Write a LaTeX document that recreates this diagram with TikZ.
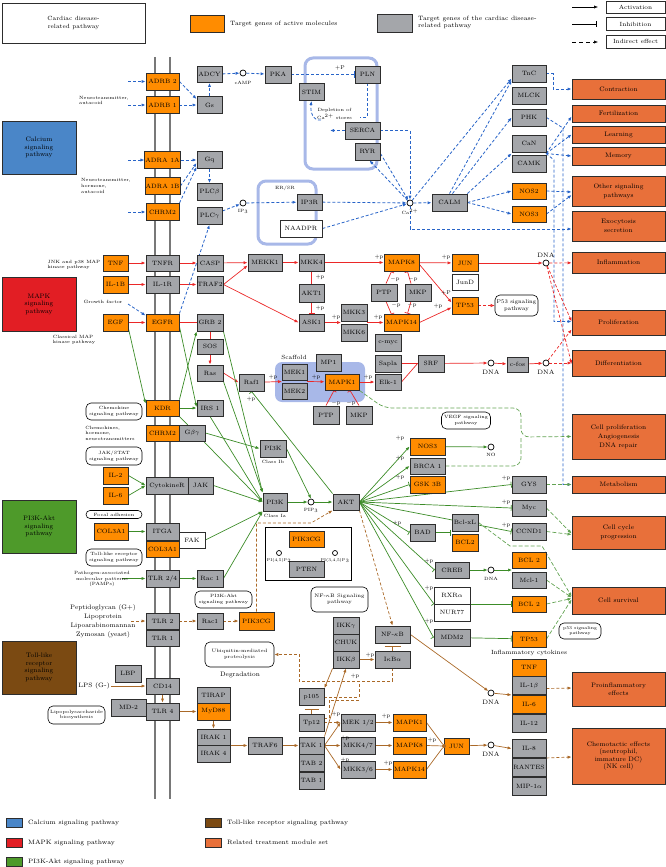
\documentclass[tikz,border=0pt]{standalone}
\usetikzlibrary{arrows.meta,calc,backgrounds}
\definecolor{org}{RGB}{255,140,0}
\definecolor{gry}{RGB}{164,166,170}
\definecolor{bdr}{RGB}{45,45,45}
\definecolor{outc}{RGB}{232,112,58}
\definecolor{cblue}{RGB}{74,134,200}
\definecolor{cred}{RGB}{226,30,36}
\definecolor{cgreen}{RGB}{78,154,42}
\definecolor{cbrown}{RGB}{123,74,18}
\definecolor{lblue}{RGB}{168,184,232}
\definecolor{ablue}{RGB}{40,100,200}
\definecolor{ared}{RGB}{235,40,40}
\definecolor{agreen}{RGB}{60,140,40}
\definecolor{abrown}{RGB}{170,105,40}
\definecolor{mgray}{RGB}{120,120,120}
\tikzset{
 bx/.style={draw=bdr,line width=0.9pt,inner sep=0.5pt,font=\fontsize{6.2}{7}\selectfont,minimum height=17pt},
 gy/.style={bx,fill=gry,minimum width=#1pt}, gy/.default=26,
 og/.style={bx,fill=org,minimum width=#1pt}, og/.default=26,
 wt/.style={bx,fill=white,minimum width=#1pt}, wt/.default=26,
 hh/.style={minimum height=#1pt},
 oc/.style={draw=bdr,line width=0.8pt,fill=outc,minimum width=93pt,align=center,font=\fontsize{6.5}{9}\selectfont,inner sep=1pt},
 rnd/.style={draw=black,line width=0.6pt,fill=white,rounded corners=5pt,align=center,font=\fontsize{4.6}{5.6}\selectfont,inner sep=0.5pt},
 sm/.style={font=\fontsize{4.6}{5.6}\selectfont,align=left,inner sep=0pt},
 lbl/.style={font=\fontsize{5.5}{6}\selectfont,inner sep=0pt},
 dnal/.style={font=\fontsize{6.3}{7}\selectfont,inner sep=0pt},
 cir/.style={circle,draw=black,fill=white,line width=0.7pt,minimum size=6pt,inner sep=0pt},
 lg/.style={draw=bdr,line width=0.8pt,minimum width=16pt,minimum height=9pt,inner sep=0pt},
 lgt/.style={anchor=west,font=\fontsize{6.3}{7}\selectfont,inner sep=0pt},
 big/.style={draw=bdr,line width=0.8pt,minimum width=74pt,minimum height=53pt,align=center,font=\fontsize{6.5}{7.5}\selectfont},
 memb/.style={draw=mgray,line width=1.1pt},
 bla/.style={draw=ablue,line width=0.8pt,dash pattern=on 3pt off 2pt,-{Latex[length=4pt,width=3.2pt]}},
 blb/.style={draw=ablue,line width=0.8pt,dash pattern=on 3pt off 2pt,-{Bar[width=6pt]}},
 bll/.style={draw=ablue,line width=0.8pt,dash pattern=on 3pt off 2pt},
 rda/.style={draw=ared,line width=0.7pt,-{Latex[length=4pt,width=3.2pt]}},
 rdl/.style={draw=ared,line width=0.7pt},
 rdi/.style={draw=ared,line width=0.7pt,-{Bar[width=6pt]}},
 rdd/.style={draw=ared,line width=0.7pt,dash pattern=on 3pt off 2pt,-{Latex[length=4pt,width=3.2pt]}},
 rdo/.style={draw=ared,line width=0.7pt,dash pattern=on 3pt off 2pt,-{Latex[open,length=4pt,width=3.5pt]}},
 gra/.style={draw=agreen,line width=0.7pt,-{Latex[length=4pt,width=3.2pt]}},
 grl/.style={draw=agreen,line width=0.7pt},
 gri/.style={draw=agreen,line width=0.7pt,-{Bar[width=6pt]}},
 grd/.style={draw=agreen!80!white,line width=0.7pt,dash pattern=on 4pt off 2pt,-{Latex[length=4pt,width=3.2pt]}},
 grdl/.style={draw=agreen!80!white,line width=0.7pt,dash pattern=on 4pt off 2pt},
 bra/.style={draw=abrown,line width=0.7pt,-{Latex[length=4pt,width=3.2pt]}},
 brl/.style={draw=abrown,line width=0.7pt},
 bri/.style={draw=abrown,line width=0.7pt,-{Bar[width=6pt]}},
 brd/.style={draw=abrown,line width=0.7pt,dash pattern=on 3pt off 2pt,-{Latex[length=4pt,width=3.2pt]}},
 brdl/.style={draw=abrown,line width=0.7pt,dash pattern=on 3pt off 2pt},
}
\begin{document}
\begin{tikzpicture}[x=1pt,y=-1pt]
\useasboundingbox (0,0) rectangle (666,867);
\begin{scope}[on background layer]
 \draw[memb] (155,57) -- (155,799);
 \draw[memb] (170,57) -- (170,799);
 \draw[lblue,line width=3pt,rounded corners=8pt] (305,58) rectangle (377,169);
 \draw[lblue,line width=3pt,rounded corners=8pt] (258,181) rectangle (316,244);
 \fill[lblue,rounded corners=7pt] (275,362) rectangle (365,402);
\end{scope}

% ---------- legends ----------
\node[draw=bdr,line width=0.8pt,minimum width=143pt,minimum height=40pt,align=center,font=\fontsize{6}{7.5}\selectfont] (legcard) at (73.5,23) {Cardiac disease-\\related pathway};
\node[draw=bdr,line width=0.8pt,fill=org,minimum width=34pt,minimum height=17pt,inner sep=0pt] (legorg) at (207,23.5) {};
\node[lgt,font=\fontsize{6.2}{7}\selectfont] (legorgt) at (230,24) {Target genes of active molecules};
\node[draw=bdr,line width=0.8pt,fill=gry,minimum width=35pt,minimum height=18pt,inner sep=0pt] (leggry) at (394.5,23) {};
\node[lgt,align=left,font=\fontsize{6.2}{7.5}\selectfont] (leggryt) at (418,22.5) {Target genes of the cardiac disease-\\related pathway};
\node[draw=bdr,line width=0.6pt,minimum width=59pt,minimum height=12pt,inner sep=0pt,font=\fontsize{6}{7}\selectfont] (legact) at (635.5,7) {Activation};
\node[draw=bdr,line width=0.6pt,minimum width=59pt,minimum height=13pt,inner sep=0pt,font=\fontsize{6}{7}\selectfont] (leginh) at (635.5,24) {Inhibition};
\node[draw=bdr,line width=0.6pt,minimum width=59pt,minimum height=13pt,inner sep=0pt,font=\fontsize{6}{7}\selectfont] (legind) at (635.5,41.5) {Indirect effect};
\coordinate (la1) at (572,7); \coordinate (la2) at (598,7);
\coordinate (lb1) at (572,24); \coordinate (lb2) at (597,24);
\coordinate (lc1) at (572,42); \coordinate (lc2) at (598,42);

\node[big,fill=cblue] (calbox) at (39,147.5) {Calcium\\signaling\\pathway};
\node[big,fill=cred,minimum height=54pt] (mapkbox) at (39,304) {MAPK\\signaling\\pathway};
\node[big,fill=cgreen] (pibox) at (39,526.5) {PI3K-Akt\\signaling\\pathway};
\node[big,fill=cbrown] (tollbox) at (39,667.5) {Toll-like\\receptor\\signaling\\pathway};

\node[lg,fill=cblue] (sq1) at (14,822.5) {};
\node[lgt] (sq1t) at (28,822.5) {Calcium signaling pathway};
\node[lg,fill=cred] (sq2) at (14,842.5) {};
\node[lgt] (sq2t) at (28,842.5) {MAPK signaling pathway};
\node[lg,fill=cgreen] (sq3) at (14,862) {};
\node[lgt] (sq3t) at (28,862) {PI3K-Akt signaling pathway};
\node[lg,fill=cbrown] (sq4) at (213,822.5) {};
\node[lgt] (sq4t) at (227,822.5) {Toll-like receptor signaling pathway};
\node[lg,fill=outc] (sq5) at (213,842.5) {};
\node[lgt] (sq5t) at (227,842.5) {Related treatment module set};

% ---------- outcome boxes ----------
\node[oc,minimum height=20pt] (contraction) at (618.5,89) {Contraction};
\node[oc,minimum height=17pt] (fertilization) at (618.5,113.5) {Fertilization};
\node[oc,minimum height=17pt] (learning) at (618.5,134.5) {Learning};
\node[oc,minimum height=18pt] (memory) at (618.5,156) {Memory};
\node[oc,minimum height=30pt] (othersig) at (618.5,191) {Other signaling\\pathways};
\node[oc,minimum height=30pt] (exocytosis) at (618.5,226) {Exocytosis\\secretion};
\node[oc,minimum height=21pt] (inflammation) at (618.5,262.5) {Inflammation};
\node[oc,minimum height=25pt] (proliferation) at (618.5,322.5) {Proliferation};
\node[oc,minimum height=26pt] (differentiation) at (618.5,363) {Differentiation};
\node[oc,minimum height=45pt] (cellprolif) at (618.5,436.5) {Cell proliferation\\Angiogenesis\\DNA repair};
\node[oc,minimum height=17pt] (metabolism) at (618.5,484.5) {Metabolism};
\node[oc,minimum height=33pt] (cellcycle) at (618.5,532.5) {Cell cycle\\progression};
\node[oc,minimum height=27pt] (cellsurvival) at (618.5,600.5) {Cell survival};
\node[oc,minimum height=34pt,font=\fontsize{6.5}{7.5}\selectfont] (proinflam) at (618.5,689) {Proinflammatory\\effects};
\node[oc,minimum height=56pt,font=\fontsize{6.5}{7.5}\selectfont] (chemotactic) at (618.5,756) {Chemotactic effects\\(neutrophil,\\immature DC)\\(NK cell)};

% ---------- calcium section ----------
\node[og=33] (adrb2) at (162.5,81.5) {ADRB 2};
\node[og=33] (adrb1) at (162.5,105) {ADRB 1};
\node[gy=25,hh=16] (adcy) at (209.5,74.5) {ADCY};
\node[gy=25] (gs) at (209.5,105) {Gs};
\node[og=33] (adra1a) at (162.5,160) {ADRA 1A};
\node[og=33] (adra1b) at (162.5,186) {ADRA 1B};
\node[og=33] (chrm2) at (162.5,212) {CHRM2};
\node[gy=25] (gq) at (209.5,160) {Gq};
\node[gy=25] (plcb) at (209.5,192) {PLC$\beta$};
\node[gy=25] (plcg) at (209.5,216) {PLC$\gamma$};
\node[sm] (nt1) at (104,100.5) {Neurotransmitter,\\autacoid};
\node[sm] (nt2) at (106,186) {Neurotransmitter,\\hormone,\\autacoid};
\node[cir] (camp) at (243,73) {};
\node[sm] (campl) at (243,82.5) {cAMP};
\node[gy=26] (pka) at (278,74.5) {PKA};
\node[gy=25] (pln) at (367.5,74.5) {PLN};
\node[lbl] (ppln) at (340,68.5) {+P};
\node[gy=25] (stim) at (311.5,92) {STIM};
\node[sm,align=center] (deplet) at (334.5,114) {Depletion of\\Ca$^{2+}$ stores};
\coordinate (dep) at (321,120);
\node[gy=35] (serca) at (362.5,130.5) {SERCA};
\node[gy=25] (ryr) at (367.5,151.5) {RYR};
\coordinate (plnend) at (360,117);
\coordinate (sercaout) at (330,130.5);
\node[sm] (ersr) at (285,188) {ER/SR};
\node[cir] (ip3c) at (243,203) {};
\node[sm] (ip3l) at (243,211.5) {IP$_3$};
\node[gy=25,hh=16] (ip3r) at (309.5,202) {IP3R};
\node[wt=42] (naadpr) at (301,228.5) {NAADPR};
\node[cir] (cac) at (410,203) {};
\node[sm] (cal) at (410,212) {Ca$^{2+}$};
\node[gy=35] (calm) at (449.5,202.5) {CALM};
\node[gy=34] (tnc) at (529,73.5) {TnC};
\node[gy=34] (mlck) at (529,95.5) {MLCK};
\node[gy=34] (phk) at (529,117.5) {PHK};
\node[gy=34] (can) at (529,143.5) {CaN};
\node[gy=34] (camk) at (529,163.5) {CAMK};
\node[og=34,hh=16] (nos2) at (529,191) {NOS2};
\node[og=34,hh=16] (nos3a) at (529,214) {NOS3};
\coordinate (jcan) at (546,153.5);

% ---------- MAPK section ----------
\node[sm] (jnk) at (74,265) {JNK and p38 MAP\\kinase pathway};
\node[sm] (gfac) at (103,302) {Growth factor};
\node[sm] (clmap) at (74,340) {Classical MAP\\kinase pathway};
\coordinate (gf) at (128,304);
\node[og=25,hh=16] (tnf) at (115.5,263) {TNF};
\node[og=25] (il1b) at (115.5,284.5) {IL-1B};
\node[og=25] (egf) at (115.5,322.5) {EGF};
\node[gy=33,hh=16] (tnfr) at (162.5,263) {TNFR};
\node[gy=33] (il1r) at (162.5,284.5) {IL-1R};
\node[og=33] (egfr) at (162.5,322.5) {EGFR};
\node[gy=26,hh=16] (casp) at (210,263) {CASP};
\node[gy=26] (traf2) at (210,284.5) {TRAF2};
\node[gy=26] (grb2) at (210,322.5) {GRB 2};
\node[gy=26,hh=15] (sos) at (210,346.5) {SOS};
\node[gy=26,hh=16] (ras) at (210,373) {Ras};
\node[gy=26,hh=16] (irs1) at (210,408) {IRS 1};
\node[og=33,hh=16] (kdr) at (162.5,408) {KDR};
\node[og=33,hh=16] (chrm2b) at (162.5,433) {CHRM2};
\node[gy=26,hh=16] (gbg) at (192,433) {G$\beta\gamma$};
\node[gy=34] (mekk1) at (265,262.5) {MEKK1};
\node[gy=25] (mkk4) at (311.5,262.5) {MKK4};
\node[gy=25,hh=18] (akt1) at (311.5,293) {AKT1};
\node[gy=25] (ask1) at (311.5,322.5) {ASK1};
\node[gy=26] (mkk3) at (354,312.5) {MKK3};
\node[gy=26] (mkk6) at (354,332.5) {MKK6};
\coordinate (mkkj) at (341,322.5);
\coordinate (mkkk) at (367,322.5);
\node[og=35] (mapk8) at (401.5,262.5) {MAPK8};
\node[gy=26] (ptp1) at (384,292.5) {PTP};
\node[gy=26] (mkp1) at (418,292.5) {MKP};
\node[og=35] (mapk14) at (401.5,322.5) {MAPK14};
\node[gy=26] (cmyc) at (388,342.5) {c-myc};
\node[gy=26] (sapla) at (388,363.5) {Sapla};
\node[gy=26,hh=16] (elk1) at (388,382) {Elk-1};
\node[gy=26] (srf) at (431,363.5) {SRF};
\node[og=26] (jun) at (465,263) {JUN};
\node[wt=26,hh=16] (jund) at (465,282) {JunD};
\node[og=26] (tp53) at (465,305.5) {TP53};
\node[rnd,minimum width=43pt,minimum height=21pt,font=\fontsize{5.5}{6.5}\selectfont] (p53path) at (516.5,305.5) {P53 signaling\\pathway};
\node[cir] (dna1) at (546,263) {};
\node[dnal] (dna1l) at (546,255.5) {DNA};
\node[cir] (dna2) at (491,363) {};
\node[dnal] (dna2l) at (491,372.5) {DNA};
\node[gy=21,hh=15] (cfos) at (517.5,364.5) {c-fos};
\node[cir] (dna3) at (546,363) {};
\node[dnal] (dna3l) at (546,372.5) {DNA};
\node[lbl,font=\fontsize{6}{7}\selectfont] (scaf) at (294,357.5) {Scaffold};
\node[gy=25,hh=16] (mek1) at (294.5,372) {MEK1};
\node[gy=25,hh=16] (mek2) at (294.5,391) {MEK2};
\node[gy=25] (mp1) at (328.5,362.5) {MP1};
\node[og=34,hh=16] (mapk1) at (342,382) {MAPK1};
\node[gy=25] (raf1) at (251.5,382.5) {Raf1};
\node[gy=26,hh=18] (ptp2) at (326,415) {PTP};
\node[gy=26,hh=18] (mkp2) at (359,415) {MKP};
\coordinate (mekj) at (282,381.5);
\coordinate (mekk) at (307,381.5);
% +p labels MAPK
\node[lbl] (q1) at (379,257.5) {+p};
\node[lbl] (q2) at (320,277) {+p};
\node[lbl] (q3) at (320,308) {+p};
\node[lbl] (q4) at (336,317) {+p};
\node[lbl] (q5) at (378,317) {+p};
\node[lbl] (q6) at (395,279) {$-$p};
\node[lbl] (q7) at (413,279) {$-$p};
\node[lbl] (q8) at (396,305.5) {$-$p};
\node[lbl] (q9) at (412,305.5) {$-$p};
\node[lbl] (q10) at (446,257.5) {+p};
\node[lbl] (q11) at (446,293) {+P};
\node[lbl] (q12) at (438,306) {+p};
\node[lbl] (q13) at (273,377) {+p};
\node[lbl] (q14) at (316,377) {+p};
\node[lbl] (q15) at (368,377) {+p};
\node[lbl] (q16) at (336,403) {$-$p};
\node[lbl] (q17) at (351,403) {$-$p};
\node[lbl] (q18) at (251,399.5) {+p};

% ---------- PI3K section ----------
\node[rnd,minimum width=56pt,minimum height=17pt] (chemok) at (114,411.5) {Chemokine\\signaling pathway};
\node[sm] (chemtx) at (110,433) {Chemokines,\\hormone,\\neurotransmitters};
\node[rnd,minimum width=56pt,minimum height=18pt] (jakstat) at (114,456) {JAK/STAT\\signaling pathway};
\node[og=25] (il2) at (115.5,475.5) {IL-2};
\node[og=25] (il6) at (115.5,495.5) {IL-6};
\node[gy=42] (cytr) at (167,485.5) {CytokineR};
\node[gy=25] (jak) at (200.5,485.5) {JAK};
\node[rnd,minimum width=56pt,minimum height=8pt,rounded corners=4pt] (focal) at (114,514.5) {Focal adhesion};
\node[og=34] (col3a1) at (111,531.5) {COL3A1};
\node[gy=33] (itga) at (162.5,531.5) {ITGA};
\node[og=33,hh=16] (col3a1b) at (162.5,549) {COL3A1};
\node[wt=26,hh=16] (fak) at (192,540) {FAK};
\node[rnd,minimum width=56pt,minimum height=17pt] (tolllike) at (114,557.5) {Toll-like receptor\\signaling pathway};
\node[sm,align=center] (pamps) at (102,579) {Pathogen-associated\\molecular patterns\\(PAMPs)};
\coordinate (pampsend) at (122,578.5);
\node[gy=33] (tlr24) at (162.5,578.5) {TLR 2/4};
\node[gy=26] (rac1a) at (210,578.5) {Rac 1};
\node[rnd,minimum width=57pt,minimum height=17pt] (pi3kakt) at (223.5,599.5) {PI3K-Akt\\signaling pathway};
\node[gy=26] (pi3kb) at (273,448.5) {PI3K};
\node[sm] (classib) at (273,462) {Class Ib};
\node[gy=24,hh=18] (pi3ka) at (275,502) {PI3K};
\node[sm] (classia) at (275,515.5) {Class Ia};
\node[cir] (pip3) at (311,502) {};
\node[sm] (pip3l) at (311,510.5) {PIP$_3$};
\node[gy=26,hh=16] (akt) at (346,502) {AKT};
\node[draw=black,line width=0.7pt,fill=white,minimum width=86pt,minimum height=53pt,inner sep=0pt] (ptenbox) at (308,553.5) {};
\node[og=35,hh=16] (pik3cg2) at (306.5,539) {PIK3CG};
\node[gy=35,hh=16] (pten) at (306.5,569) {PTEN};
\node[cir,minimum size=5pt] (pip2c) at (279,553) {};
\node[cir,minimum size=5pt] (pip3c) at (335,553) {};
\node[sm,font=\fontsize{4}{5}\selectfont] (pip2cl) at (279,560.5) {PI(4,5)P$_2$};
\node[sm,font=\fontsize{4}{5}\selectfont] (pip3cl) at (335,560.5) {PI(3,4,5)P$_3$};
\node[rnd,minimum width=57pt,minimum height=25pt,font=\fontsize{5}{6}\selectfont] (nfkbpath) at (339.5,599.5) {NF-$\kappa$B Signaling\\pathway};
\node[og=35] (nos3b) at (427.5,446.5) {NOS3};
\node[gy=35,hh=16] (brca1) at (427.5,466) {BRCA 1};
\node[og=35] (gsk3b) at (427.5,484.5) {GSK 3B};
\node[cir] (no) at (491,447) {};
\node[sm] (nol) at (491,454.5) {NO};
\node[rnd,minimum width=49pt,minimum height=17pt] (vegf) at (466,420.5) {VEGF signaling\\pathway};
\node[gy=25] (bad) at (422.5,532.5) {BAD};
\node[gy=26] (bclxl) at (465,522.5) {Bcl-xL};
\node[og=26] (bcl2a) at (465,542.5) {BCL2};
\node[gy=34,hh=16] (creb) at (452,570) {CREB};
\node[cir] (dnac) at (491,570) {};
\node[sm] (dnacl) at (491,578.5) {DNA};
\node[wt=36] (rxra) at (452,595.5) {RXR$\alpha$};
\node[wt=36] (nur77) at (452,612.5) {NUR77};
\node[gy=36] (mdm2) at (452,637.5) {MDM2};
\node[gy=34] (gys) at (529,484.5) {GYS};
\node[gy=34,hh=16] (myc) at (529,508) {Myc};
\node[gy=34] (ccnd1) at (529,531.5) {CCND1};
\node[og=34,hh=16] (bcl2b) at (529,560) {BCL 2};
\node[gy=34,hh=16] (mcl1) at (529,580) {Mcl-1};
\node[og=34,hh=16] (bcl2c) at (529,604) {BCL 2};
\node[og=34,hh=16] (tp53b) at (529,639) {TP53};
\node[rnd,minimum width=42pt,minimum height=16pt,font=\fontsize{4.3}{5.3}\selectfont] (p53path2) at (580,631) {p53 signaling\\pathway};
\coordinate (bcljn) at (451,532.5);
\coordinate (crebjn) at (512,570);
\coordinate (rxrjn) at (470,604);
\coordinate (akrx) at (434,604);
% +p labels PI3K
\node[lbl] (r1) at (400,438) {+p};
\node[lbl] (r2) at (400,458) {+p};
\node[lbl] (r3) at (400,477.5) {+p};
\node[lbl] (r4) at (397,523) {+p};
\node[lbl] (r5) at (429,561.5) {+p};
\node[lbl] (r6) at (429,588.5) {+p};
\node[lbl] (r7) at (429,621) {+p};
\node[lbl] (r8) at (506,478.5) {+p};
\node[lbl] (r9) at (506,502.5) {+p};
\node[lbl] (r10) at (506,525.5) {+p};

% ---------- Toll / NF-kB section ----------
\node[sm,align=center,font=\fontsize{6.5}{9}\selectfont] (pept) at (103,621.5) {Peptidoglycan (G+)\\Lipoprotein\\Lipoarabinomannan\\Zymosan (yeast)};
\coordinate (peptend) at (131,621);
\node[gy=33,hh=16] (tlr2) at (162.5,621) {TLR 2};
\node[gy=33,hh=16] (tlr1) at (162.5,638.5) {TLR 1};
\node[gy=26,hh=16] (rac1b) at (210,621) {Rac1};
\node[og=35,hh=18] (pik3cg1) at (256.5,621) {PIK3CG};
\node[gy=26] (ikkg) at (346,625.5) {IKK$\gamma$};
\node[gy=26] (chuk) at (346,642.5) {CHUK};
\node[gy=26] (ikkb) at (346,659.5) {IKK$\beta$};
\node[gy=35] (nfkb) at (392.5,634.5) {NF-$\kappa$B};
\node[gy=35] (ikba) at (392.5,659.5) {I$\kappa$B$\alpha$};
\node[rnd,minimum width=69pt,minimum height=25pt,font=\fontsize{4.8}{5.8}\selectfont] (ubiq) at (239.5,654.5) {Ubiquitin-mediated\\proteolysis};
\node[lbl,font=\fontsize{6.5}{7}\selectfont] (degr) at (240,675) {Degradation};
\node[gy=25] (p105) at (311.5,697) {p105};
\node[gy=25] (tp12) at (311.5,722.5) {Tp12};
\node[gy=25] (tak1) at (311.5,745.5) {TAK 1};
\node[gy=25] (tab2) at (311.5,763) {TAB 2};
\node[gy=25] (tab1) at (311.5,780.5) {TAB 1};
\node[gy=34] (traf6) at (265,745.5) {TRAF6};
\node[gy=34] (mek12) at (358,722.5) {MEK 1/2};
\node[gy=34] (mkk47) at (358,745.5) {MKK4/7};
\node[gy=34] (mkk36) at (358,769.5) {MKK3/6};
\node[og=33] (mapk1b) at (409.5,722.5) {MAPK1};
\node[og=33] (mapk8b) at (409.5,745.5) {MAPK8};
\node[og=33] (mapk14b) at (409.5,769.5) {MAPK14};
\node[og=25,hh=16] (junb) at (456.5,746) {JUN};
\node[circle,fill=abrown,minimum size=4pt,inner sep=0pt] (jdot) at (444,746) {};
\node[cir] (dnaa) at (491,693) {};
\node[dnal] (dnaal) at (491,702.5) {DNA};
\node[cir] (dnab) at (491,745) {};
\node[dnal] (dnabl) at (491,754.5) {DNA};
\node[lbl,font=\fontsize{6}{7}\selectfont] (inflcy) at (529,652.5) {Inflammatory cytokines};
\node[og=34] (tnfb) at (529,667.5) {TNF};
\node[gy=34,hh=18] (il1bb) at (529,685.5) {IL-1$\beta$};
\node[og=34,hh=18] (il6b) at (529,704.5) {IL-6};
\node[gy=34,hh=18] (il12) at (529,723.5) {IL-12};
\node[gy=34,hh=18] (il8) at (529,748.5) {IL-8};
\node[gy=34,hh=18] (rantes) at (529,767.5) {RANTES};
\node[gy=34,hh=18] (mip1a) at (529,786.5) {MIP-1$\alpha$};
\node[gy=26] (lbp) at (128,673.5) {LBP};
\node[gy=33,hh=16] (cd14) at (162.5,686) {CD14};
\node[lbl,anchor=east,font=\fontsize{6.3}{7}\selectfont] (lps) at (110,686) {LPS (G-)};
\coordinate (lpsend) at (111,686);
\node[gy=35] (md2) at (128.5,707.5) {MD-2};
\node[gy=33] (tlr4) at (162.5,711.5) {TLR 4};
\node[gy=33,hh=16] (tirap) at (213.5,695) {TIRAP};
\node[og=33] (myd88) at (213.5,711.5) {MyD88};
\node[gy=33,hh=16] (irak1) at (213.5,737) {IRAK 1};
\node[gy=33] (irak4) at (213.5,753.5) {IRAK 4};
\node[rnd,minimum width=57pt,minimum height=18pt] (lpsbio) at (76.5,715) {Lipopolysaccharide\\biosynthesis};
\coordinate (p105a) at (359,681);
\node[lbl] (s1) at (370,655) {+p};
\node[lbl] (s2) at (355,676) {+p};
\node[lbl] (s3) at (336,714) {+p};
\node[lbl] (s4) at (345,738.5) {+p};
\node[lbl] (s5) at (345,760.5) {+p};
\node[lbl] (s6) at (386,716) {+p};
\node[lbl] (s7) at (388,763) {+p};
\node[lbl] (s8) at (432,740) {+p};

% ================= connectors =================
\begin{scope}[on background layer]
% legend
\draw[line width=0.6pt,-{Latex[length=4pt,width=3.2pt]}] (la1) -- (la2);
\draw[line width=0.6pt,-{Bar[width=6pt]}] (lb1) -- (lb2);
\draw[line width=0.6pt,dash pattern=on 4pt off 3pt,-{Latex[length=4pt,width=3.2pt]}] (lc1) -- (lc2);
% calcium
\coordinate (i1) at (128,81.5); \coordinate (i2) at (128,105);
\coordinate (i3) at (128,160); \coordinate (i4) at (128,212);
\draw[bla] (i1) -- (adrb2);
\draw[bla] (i2) -- (adrb1);
\draw[bla] (i3) -- (adra1a);
\draw[bla] (i4) -- (chrm2);
\draw[bla] (adrb2.east) -- ($(gs.north west)+(0,3)$);
\draw[bla] (adrb1) -- (gs);
\draw[bla] (gs) -- (adcy);
\draw[bla] (adcy) -- (camp);
\draw[bla] (camp) -- (pka);
\draw[blb] (pka) -- (pln);
\draw[bla] (adra1a) -- (gq);
\draw[bla] (adra1b.east) -- ($(gq.west)+(0,3)$);
\draw[bla] (chrm2.north east) -- ($(gq.south west)+(0,-2)$);
\draw[bla] (gq) -- (plcb);
\draw[bla] (plcg) -- (ip3c);
\draw[bla] (ip3c) -- (ip3r);
\draw[bla] (ip3r) -- (cac);
\draw[bla] (naadpr.east) -- (cac);
\draw[bll] (pln.south) |- (plnend);
\draw[bla] (serca.west) -- (sercaout);
\draw[bla] (serca.east) -| (cac.north);
\draw[bla] ($(ryr.east)+(0,2)$) -- (cac);
\draw[bla] (cac) -- ($(ryr.south)+(2,0)$);
\draw[bla] (dep) .. controls (313,121) and (310,112) .. (stim.south);
\draw[bla] (cac) -- (calm);
\draw[bla] (cac) -- ($(tnc.west)+(0,5)$);
\draw[bla] (calm.north) -- ($(tnc.south west)+(0,-2)$);
\draw[bla] ($(calm.north)+(3,0)$) -- (phk.west);
\draw[bla] (calm.north east) -- ($(can.south west)+(0,1)$);
\draw[bla] (calm.east) -- (nos2.west);
\draw[bla] (calm.east) -- (nos3a.west);
\draw[bla] (tnc.east) -- ++(7,0) |- (contraction.west);
\draw[bla] (phk.east) -- (563,128) |- (metabolism.west);
\draw[bla] (jcan) -- ($(fertilization.west)+(0,3)$);
\draw[bla] (jcan) -- (learning.west);
\draw[bla] (jcan) -- (memory.west);
\draw[bla] (jcan) -- (554,160) |- ($(proliferation.west)+(0,-1)$);
\draw[bla] (cac.south) |- ($(exocytosis.west)+(0,3)$);
\draw[bla] (nos2.east) -- ($(othersig.west)+(0,1)$);
\draw[bla] (nos3a.east) -- ($(othersig.west)+(0,4)$);
% MAPK
\draw[rda] (tnf) -- (tnfr);
\draw[rda] (il1b) -- (il1r);
\draw[rda] (egf) -- (egfr);
\draw[rda] (tnfr) -- (casp);
\draw[rda] (il1r) -- (traf2);
\draw[rdl] (egfr) -- (grb2);
\draw[rdl] (grb2) -- (sos);
\draw[rda] (sos) -- (ras);
\draw[bla] (gf) -- ($(egfr.north west)+(0,2)$);
\draw[bla] (egfr.north east) -- (plcg.south);
\draw[rda] (casp) -- (mekk1);
\draw[rda] (traf2.east) -- ($(mekk1.west)+(0,3)$);
\draw[rda] (traf2.east) -- (ask1.west);
\draw[rda] (mekk1) -- (mkk4);
\draw[rda] (mkk4) -- (mapk8);
\draw[rdi] (akt1) -- (mkk4);
\draw[rdi] (akt1) -- (ask1);
\draw[rda] (ask1) -- (mkkj);
\draw[rda] (mkkk) -- (mapk14);
\draw[rdi] ($(ptp1.north)+(2,0)$) -- ($(mapk8.south)+(-10,0)$);
\draw[rdi] ($(mkp1.north)+(-7,0)$) -- ($(mapk8.south)+(6,0)$);
\draw[rdi] ($(ptp1.south)+(2,0)$) -- ($(mapk14.south west)+(8,-17)$);
\draw[rdi] ($(mkp1.south)+(-7,0)$) -- ($(mapk14.north)+(6,0)$);
\draw[rda] (mapk8) -- (jun);
\draw[rda] ($(mapk8.east)+(0,2)$) -- ($(tp53.west)+(0,-3)$);
\draw[rda] (mapk14.east) -- ($(tp53.west)+(0,2)$);
\draw[rdo] (tp53) -- (p53path);
\draw[rda] (jun) -- (dna1);
\draw[rdd] (dna1) -- (inflammation);
\draw[rdd] (dna1) -- ($(proliferation.west)+(0,-1)$);
\draw[rdd] (dna1) -- ($(differentiation.west)+(0,1)$);
\draw[rdl] (sapla.east) -- (srf.west);
\draw[rdl] (elk1.east) -- (srf.west);
\draw[rda] (srf) -- (dna2);
\draw[rda] (dna2) -- (cfos);
\draw[rda] (cfos) -- (dna3);
\draw[rdd] (dna3) -- (differentiation);
\draw[rdd] (dna3) -- ($(proliferation.west)+(0,7)$);
\draw[rda] (ras.east) -- (raf1.west);
\draw[rda] (raf1) -- (mekj);
\draw[rda] (mekk) -- (mapk1);
\draw[rda] (mapk1) -- (elk1);
\draw[rdi] (ptp2.north) -- ($(mapk1.south)+(-8,0)$);
\draw[rdi] (mkp2.north) -- ($(mapk1.south)+(8,0)$);
\draw[grd,rounded corners=8pt] (mapk1.south east) -- (384,408) -- (521,408) -- (521,437) -- (cellprolif.west);
\draw[grdl,rounded corners=8pt] (brca1.east) -- (521,466) -- (521,437);
% PI3K
\draw[gra] ($(egf.south east)+(0,-3)$) -- ($(kdr.north west)+(0,4)$);
\draw[gra] ($(egfr.east)+(0,4)$) -- ($(irs1.west)+(0,-1)$);
\draw[gra] (kdr.north east) -- (grb2.south west);
\draw[gra] (kdr) -- (irs1);
\draw[gra] (grb2.south east) -- (pi3ka.north west);
\draw[gra] (ras.south east) -- (pi3ka.north west);
\draw[gra] (irs1.south) -- (pi3ka.west);
\draw[gra] (kdr.south east) -- (pi3ka.west);
\draw[gra] (gbg.east) -- (pi3kb.west);
\draw[gra] (il2.east) -- (cytr.west);
\draw[gra] (il6.east) -- (cytr.west);
\draw[gra] (jak.east) -- (pi3ka.west);
\draw[gra] (col3a1) -- (itga);
\draw[gra] (fak.east) -- (pi3ka.south west);
\draw[gra] (pampsend) -- (tlr24);
\draw[gra] (tlr24) -- (rac1a);
\draw[gra] (rac1a.east) -- (pi3ka.south west);
\draw[gra] (pi3kb.east) -- (pip3.north);
\draw[gra] (pi3ka) -- (pip3);
\draw[gra] (pip3) -- (akt);
\draw[gri] (akt.north west) -- (raf1.south);
\draw[gra] (akt.east) -- (nos3b.west);
\draw[gra] (akt.east) -- (brca1.west);
\draw[gri] (akt.east) -- (gsk3b.west);
\draw[gri] (akt.east) -- (bad.west);
\draw[gri] (akt.east) -- (creb.west);
\draw[gri] (akt.east) -- (akrx);
\draw[gri] (akt.east) -- (mdm2.west);
\draw[gri] (akt.east) -- (gys.west);
\draw[gri] (akt.east) -- (myc.west);
\draw[gri] (akt.east) -- (ccnd1.west);
\draw[gri] (bad.east) -- (bcljn);
\draw[gra] (nos3b) -- (no);
\draw[gra] (creb) -- (dnac);
\draw[gra] (dnac) -- (crebjn);
\draw[gri] (rxrjn) -- (bcl2c.west);
\draw[gri] (mdm2) -- (tp53b);
\draw[gra] ($(pip2c.east)+(1,-2)$) -- ($(pip3c.west)+(-1,-2)$);
\draw[gra] ($(pip3c.west)+(-1,2)$) -- ($(pip2c.east)+(1,2)$);
\draw[grd] (bclxl.east) -- (510,546) -- (542,546) -- ($(cellsurvival.west)+(0,-4)$);
\draw[grd] (mcl1.east) -- ($(cellsurvival.west)+(0,-3)$);
\draw[grd] (bcl2c.east) -- ($(cellsurvival.west)+(0,-2)$);
\draw[grd] (tp53b.east) -- ($(cellsurvival.west)+(0,-1)$);
\draw[grd] (gys) -- (metabolism);
\draw[grd] (myc.east) -- ($(cellcycle.west)+(0,1)$);
\draw[grd] (ccnd1.east) -- ($(cellcycle.west)+(0,2)$);
% Toll / NF-kB
\draw[brd] (peptend) -- (tlr2);
\draw[brd] (tlr2) -- (rac1b);
\draw[brd] (rac1b) -- (pik3cg1);
\draw[brd] (pik3cg1.north) -- (256.5,523) -- (311,523) -- (akt.south west);
\draw[brd] (akt.south east) -- (nfkb.north);
\draw[bra] (ikkb) -- (ikba);
\draw[bri,-{Bar[width=16pt]}] (ikba.north) -- ($(nfkb.south)+(0,3)$);
\draw[bra] (nfkb.east) -- (dnaa);
\draw[brd] (ikba.south) |- (299,681) |- (ubiq.east);
\draw[brdl] (p105.east) -| (p105a);
\draw[brd] (tp12) -- (mek12);
\draw[brdl] ($(tp12.east)+(0,-4)$) -- (329,718.5) -- (329,700.5) -- (359,700.5);
\draw[bri,-{Bar[width=14pt]}] (tp12.north) -- (311.5,709);
\draw[bra] (ikkb.south west) -- (p105.north east);
\draw[bra] (tak1.north east) -- (ikkb.south);
\draw[bra] (tak1.east) -- (mek12.west);
\draw[bra] (tak1) -- (mkk47);
\draw[bra] (tak1.east) -- (mkk36.west);
\draw[bra] (mek12) -- (mapk1b);
\draw[bra] (mkk47) -- (mapk8b);
\draw[bra] (mkk36) -- (mapk14b);
\draw[brl] (mapk1b.east) -- (jdot);
\draw[brl] (mapk8b.east) -- (jdot);
\draw[brl] (mapk14b.east) -- (jdot);
\draw[bra] (junb) -- (dnab);
\draw[bra] (dnab) -- (il8.west);
\draw[bra] (dnaa) -- (il1bb.south west);
\draw[brd] ($(il1bb.east)+(0,3)$) -- ($(proinflam.west)+(0,-1)$);
\draw[brd] (il8.south east) -- ($(chemotactic.west)+(0,1)$);
\draw[bra] (lpsend) -- (cd14);
\draw[bra] (cd14) -- (tlr4);
\draw[bra] (tlr4) -- (myd88);
\draw[bra] (myd88) -- (irak1);
\draw[bra] (irak1.south east) -- (traf6.west);
\draw[bra] (traf6) -- (tak1);
\end{scope}
\end{tikzpicture}
\end{document}
